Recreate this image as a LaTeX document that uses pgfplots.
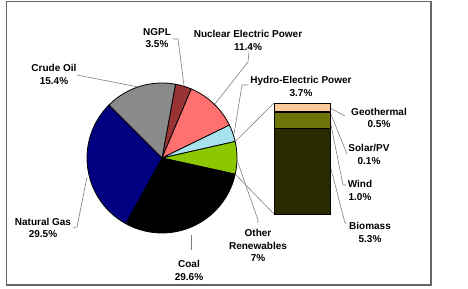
\documentclass[border=0pt]{standalone}
\usepackage{pgfplots}
\pgfplotsset{compat=1.18}
\usepackage{fontspec}
\setmainfont{Liberation Sans}
\definecolor{cNGPL}{HTML}{993333}
\definecolor{cNuc}{HTML}{FF7070}
\definecolor{cHydro}{HTML}{A8E2EE}
\definecolor{cOther}{HTML}{8CC800}
\definecolor{cCoal}{HTML}{000000}
\definecolor{cGas}{HTML}{000080}
\definecolor{cOil}{HTML}{8A8A8A}
\definecolor{cGeo}{HTML}{FFCC99}
\definecolor{cSolar}{HTML}{C89A10}
\definecolor{cWind}{HTML}{6E7408}
\definecolor{cBio}{HTML}{2B2B00}
\definecolor{cLead}{HTML}{808080}
\begin{document}
\begin{tikzpicture}[
  lbl/.style={align=center, inner sep=0pt, font=\fontsize{10bp}{12.5bp}\selectfont\bfseries},
  leader/.style={draw=cLead, line width=0.6bp}]
\begin{axis}[name=main, at={(0,0)}, anchor=south west, scale only axis,
  width=468bp, height=289bp, xmin=0, xmax=468, ymin=0, ymax=289,
  hide axis, clip=false]
\path (axis cs:0,0) rectangle (axis cs:468,289);
\draw[draw=black!60, line width=1.2bp] (axis cs:6.5,287.3) rectangle (axis cs:431,4);
% pie
\pgfplotsextra{
  \xdef\ang{79.6}
  \foreach \v/\c in {3.5/cNGPL, 11.4/cNuc, 3.7/cHydro, 7/cOther, 29.6/cCoal, 29.5/cGas, 15.4/cOil} {
    \pgfmathsetmacro\endang{\ang-3.5964*\v}
    \draw[fill=\c, line width=0.8bp, line join=round] (axis cs:162,131) -- ++(\ang:75bp)
       arc[start angle=\ang, end angle=\endang, radius=75bp] -- cycle;
    \xdef\ang{\endang}
  }
}
% connectors
\draw[leader] (axis cs:235.2,147.5) -- (axis cs:274,186);
\draw[leader] (axis cs:235.2,114.8) -- (axis cs:274,75);
% leaders
\draw[leader] (axis cs:77,214) -- (axis cs:138,202);
\draw[leader] (axis cs:173,250) -- (axis cs:178,250) -- (axis cs:184,203);
\draw[leader] (axis cs:249,237) -- (axis cs:248,227) -- (axis cs:215,185);
\draw[leader] (axis cs:248,204) -- (axis cs:242,204) -- (axis cs:234,155);
\draw[leader] (axis cs:330,181) -- (axis cs:345,173);
\draw[leader] (axis cs:330,177) -- (axis cs:347,135);
\draw[leader] (axis cs:330,169) -- (axis cs:343,104) -- (axis cs:346,104);
\draw[leader] (axis cs:330,124) -- (axis cs:345,66) -- (axis cs:347,66);
\draw[leader] (axis cs:238,126) -- (axis cs:258,69) -- (axis cs:258,66);
\draw[leader] (axis cs:191,54) -- (axis cs:191,39);
\draw[leader] (axis cs:87,112) -- (axis cs:77,62) -- (axis cs:73,61);
% labels
\node[lbl] at (axis cs:54,214.5) {Crude Oil\\15.4\%};
\node[lbl] at (axis cs:157,251) {NGPL\\3.5\%};
\node[lbl] at (axis cs:248,248.5) {Nuclear Electric Power\\11.4\%};
\node[lbl] at (axis cs:301,202.5) {Hydro-Electric Power\\3.7\%};
\node[lbl] at (axis cs:379,171) {Geothermal\\0.5\%};
\node[lbl] at (axis cs:369,134.5) {Solar/PV\\0.1\%};
\node[lbl] at (axis cs:360,98.5) {Wind\\1.0\%};
\node[lbl] at (axis cs:370,56.5) {Biomass\\5.3\%};
\node[lbl] at (axis cs:258,43.5) {Other\\Renewables\\7\%};
\node[lbl] at (axis cs:189,18.5) {Coal\\29.6\%};
\node[lbl] at (axis cs:43,61) {Natural Gas\\29.5\%};
\end{axis}
\begin{axis}[at={(274bp,75bp)}, anchor=south west, scale only axis,
  width=56bp, height=111bp, xmin=0, xmax=1, ymin=0, ymax=6.9,
  hide axis, clip=false, ybar stacked, bar width=56bp,
  every axis plot/.append style={draw=black, line width=0.8bp}]
\addplot[fill=cBio] coordinates {(0.5,5.3)};
\addplot[fill=cWind] coordinates {(0.5,1.0)};
\addplot[fill=cSolar] coordinates {(0.5,0.1)};
\addplot[fill=cGeo] coordinates {(0.5,0.5)};
\end{axis}
\end{tikzpicture}
\end{document}
